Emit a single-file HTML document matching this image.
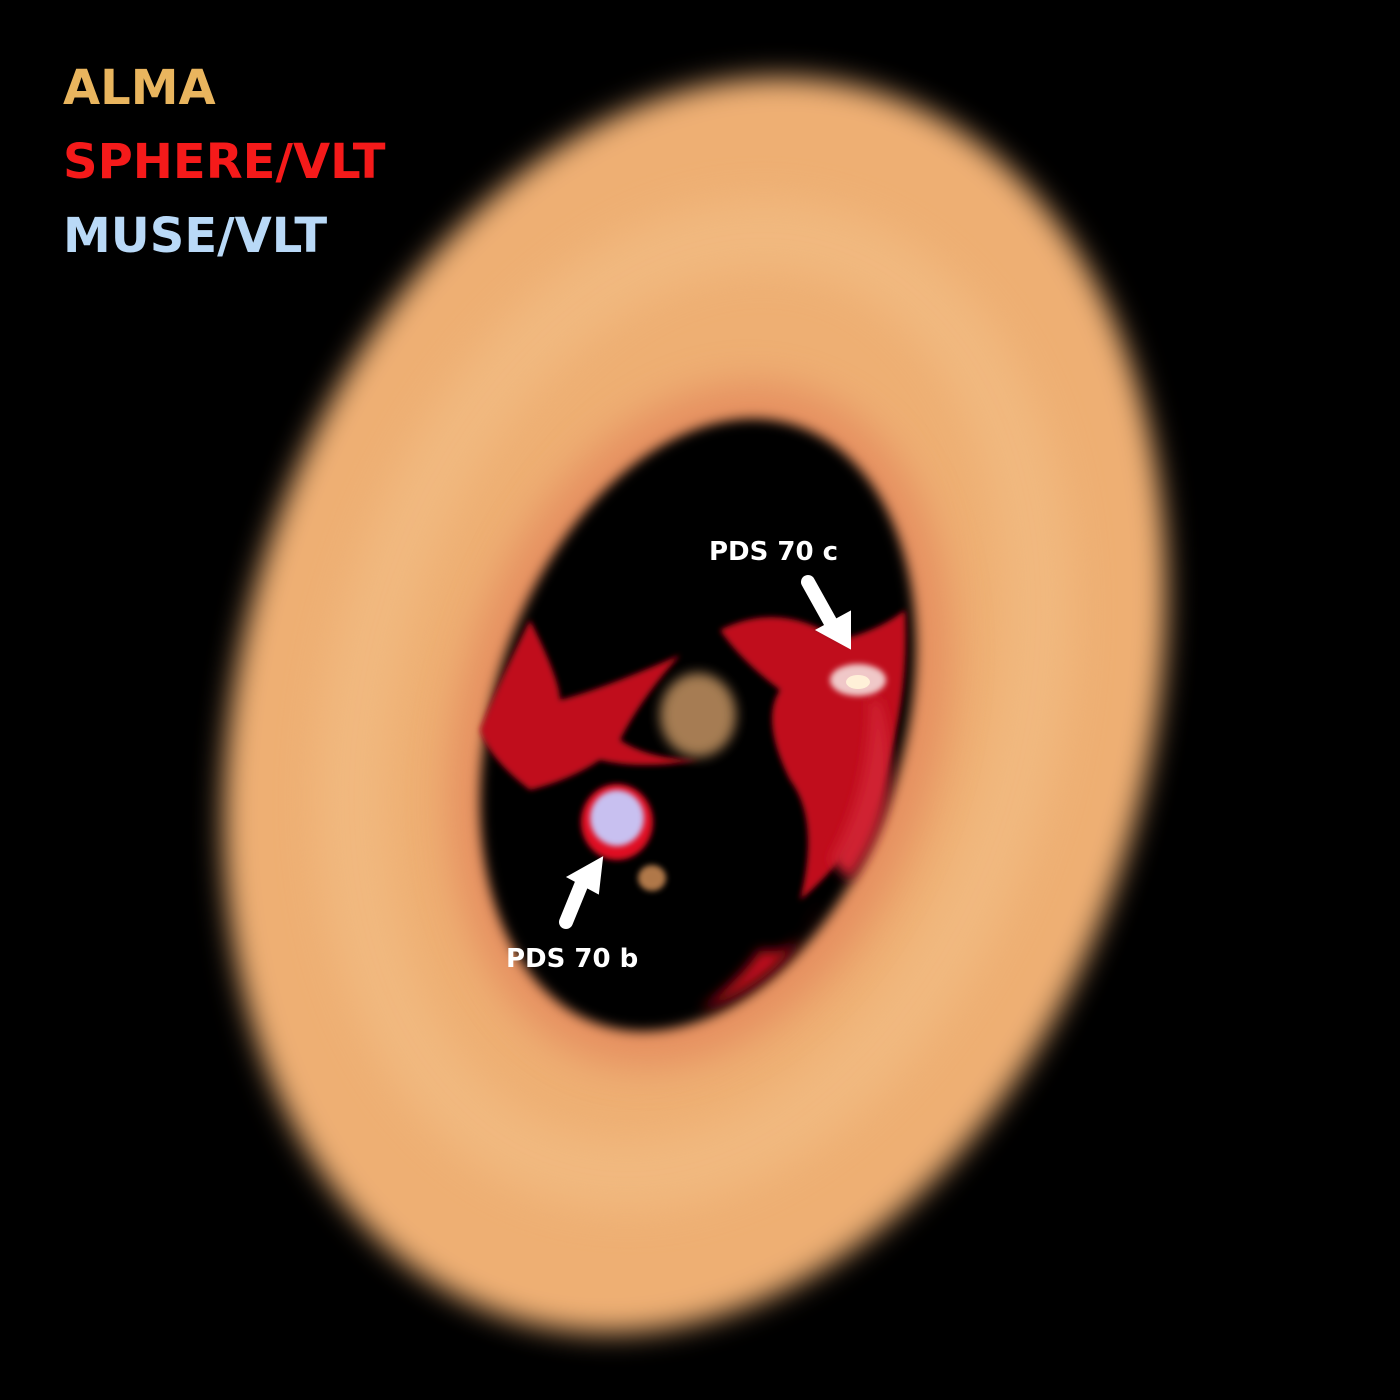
<!DOCTYPE html>
<html><head><meta charset="utf-8"><style>
html,body{margin:0;padding:0;background:#000;}
svg{display:block}
.lbl{font-family:"DejaVu Sans","Liberation Sans",sans-serif;font-weight:bold;}
</style></head><body>
<svg width="1400" height="1400" viewBox="0 0 1400 1400">
<defs>
<filter id="b30" x="-50%" y="-50%" width="200%" height="200%"><feGaussianBlur stdDeviation="14"/></filter>
<filter id="b20" x="-50%" y="-50%" width="200%" height="200%"><feGaussianBlur stdDeviation="20"/></filter>
<filter id="b8" x="-50%" y="-50%" width="200%" height="200%"><feGaussianBlur stdDeviation="6"/></filter>
<filter id="b3" x="-50%" y="-50%" width="200%" height="200%"><feGaussianBlur stdDeviation="3"/></filter>
</defs>
<rect width="1400" height="1400" fill="#000"/>
<g>
<ellipse cx="695" cy="705" rx="455" ry="640" transform="rotate(16 695 705)" fill="#eeaf73" filter="url(#b30)"/>
<ellipse cx="695" cy="705" rx="330" ry="480" transform="rotate(16 695 705)" fill="none" stroke="#f2bb82" stroke-width="70" filter="url(#b20)" opacity="0.8"/>
<ellipse cx="700" cy="725" rx="240" ry="350" transform="rotate(17 700 725)" fill="#e07a52" filter="url(#b20)" opacity="0.6"/>
<ellipse cx="698" cy="725" rx="205" ry="315" transform="rotate(18 698 725)" fill="#000" filter="url(#b8)"/>
</g>
<g fill="#c0101c">
<path d="M720 630 Q780 600 840 640 Q880 630 905 610 Q910 700 880 790 Q850 860 800 900 Q820 820 790 780 Q760 720 780 690 Q740 660 720 630Z" filter="url(#b3)"/>
<path d="M880 700 Q910 800 850 880 L830 860 Q870 790 870 700Z" fill="#d02030" filter="url(#b8)"/>
<path d="M530 620 Q560 680 560 700 Q600 690 680 655 Q640 700 620 740 Q650 760 700 760 Q640 770 600 760 Q570 780 530 790 Q490 760 480 730 Q500 680 530 620Z" filter="url(#b3)"/>
<path d="M760 950 Q800 960 820 900 Q790 980 700 1010 Q740 980 760 950Z" filter="url(#b8)"/>
</g>
<ellipse cx="698" cy="715" rx="38" ry="42" fill="#b88a5c" filter="url(#b8)" opacity="0.9"/>
<ellipse cx="652" cy="878" rx="14" ry="13" fill="#b07848" filter="url(#b3)"/>
<g>
<ellipse cx="617" cy="822" rx="36" ry="38" fill="#e01020" filter="url(#b3)"/>
<ellipse cx="617" cy="818" rx="27" ry="28" fill="#c8c0f0" filter="url(#b3)"/>
</g>
<g>
<ellipse cx="858" cy="680" rx="28" ry="16" fill="#f0c8c8" filter="url(#b3)"/>
<ellipse cx="858" cy="682" rx="12" ry="7" fill="#fff0d8"/>
</g>
<g fill="#fff" stroke="#fff">
<line x1="808" y1="582" x2="832" y2="625" stroke-width="14" stroke-linecap="round"/>
<polygon points="817,630 850,648 850,612" stroke-width="2"/>
<line x1="566" y1="922" x2="584" y2="878" stroke-width="14" stroke-linecap="round"/>
<polygon points="568,877 602,858 598,893" stroke-width="2"/>
</g>
<text x="709" y="560" class="lbl" font-size="26" fill="#fff">PDS 70 c</text>
<text x="506" y="967" class="lbl" font-size="26" fill="#fff">PDS 70 b</text>
<g>
<text x="63" y="104" class="lbl" font-size="48" fill="#e9b55e">ALMA</text>
<text x="63" y="178" class="lbl" font-size="48" fill="#f51a1a">SPHERE/VLT</text>
<text x="63" y="252" class="lbl" font-size="48" fill="#b9d9f7">MUSE/VLT</text>
</g>
</svg>
</body></html>
